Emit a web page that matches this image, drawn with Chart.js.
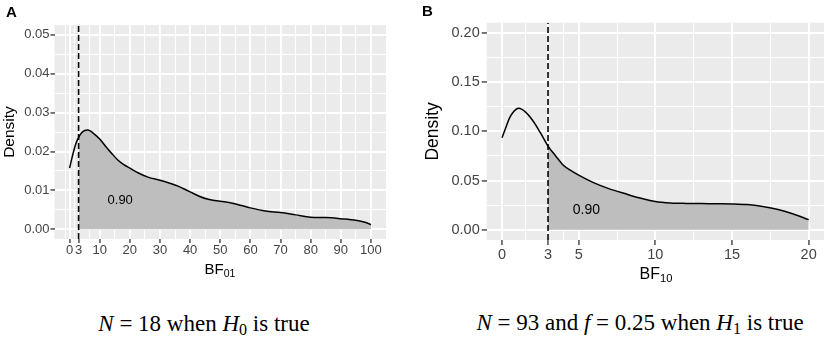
<!DOCTYPE html>
<html><head><meta charset="utf-8">
<script src="https://cdn.jsdelivr.net/npm/chart.js"></script>
<style>
body{margin:0;background:#fff;width:829px;height:339px;position:relative;overflow:hidden;font-family:"Liberation Sans",Arial,sans-serif;}
canvas{position:absolute;top:0;}
#cA{left:0;} #cB{left:420px;}
.tag{position:absolute;font-weight:bold;font-size:15px;line-height:15px;color:#000;}
.xt{position:absolute;text-align:center;color:#000;white-space:nowrap;}
.xt sub{font-size:70%;line-height:0;vertical-align:-0.3em;}
.cap{position:absolute;text-align:center;font-family:"Liberation Serif","Times New Roman",serif;font-size:23px;line-height:23px;white-space:nowrap;color:#000;}
.cap sub{font-size:70%;line-height:0;vertical-align:-0.25em;}
</style></head><body>
<canvas id="cA" width="400" height="300"></canvas>
<canvas id="cB" width="409" height="300"></canvas>
<div class="tag" style="left:6px;top:4px">A</div>
<div class="tag" style="left:422px;top:3px">B</div>
<div class="xt" style="left:120px;width:200px;top:261px;font-size:15px;line-height:15px">BF<sub>01</sub></div>
<div class="xt" style="left:556px;width:200px;top:266px;font-size:16px;line-height:16px">BF<sub>10</sub></div>
<div class="cap" style="left:4px;width:400px;top:312px"><i>N</i> = 18 when <i>H</i><sub>0</sub> is true</div>
<div class="cap" style="left:440px;width:400px;top:311px"><i>N</i> = 93 and <i>f</i> = 0.25 when <i>H</i><sub>1</sub> is true</div>
<script>
// ---- Panel A data ----
const xA = [0,1,2,3,4,5,6,7,8,10,12,14,16,18,20,23,26,30,33,36,40,43,46,50,54,57,60,65,70,75,80,85,90,95,98,100];
const yA = [0.0157,0.0190,0.0218,0.0236,0.0248,0.0254,0.0255,0.0252,0.0246,0.0232,0.0213,0.0195,0.0178,0.0166,0.0157,0.0144,0.0134,0.0126,0.0119,0.0111,0.0096,0.0085,0.0077,0.0072,0.0067,0.0061,0.0055,0.0047,0.0043,0.0037,0.0031,0.0030,0.0027,0.0023,0.0018,0.0012];
const thresholdA = 3;
const probLabelA = '0.90';
const probPosA = [16.8, 0.0075];
const xMajorA = [0,3,10,20,30,40,50,60,70,80,90,100];
const xMinorA = [-1.5,1.5,6.5,15,25,35,45,55,65,75,85,95];
const yMajorA = [0,0.01,0.02,0.03,0.04,0.05];
const yMinorA = [0.005,0.015,0.025,0.035,0.045];

// ---- Panel B data ----
const xB = [0,0.25,0.5,0.75,1,1.1,1.5,2,2.5,3,3.5,4,4.5,5,6,7,8,9,10,11,12,13,14,15,16,17,18,19,20];
const yB = [0.0935,0.104,0.114,0.1200,0.1232,0.1235,0.1200,0.1110,0.0986,0.085,0.075,0.0655,0.0600,0.0555,0.0476,0.0415,0.0367,0.0322,0.0287,0.0272,0.0267,0.0265,0.0264,0.0262,0.0255,0.0235,0.0205,0.0160,0.0102];
const thresholdB = 3;
const probLabelB = '0.90';
const probPosB = [5.5, 0.0197];
const xMajorB = [0,3,5,10,15,20];
const xMinorB = [1.5,4,7.5,12.5,17.5];
const yMajorB = [0,0.05,0.10,0.15,0.20];
const yMinorB = [0.025,0.075,0.125,0.175];

const FONT = '"Liberation Sans", Arial, sans-serif';
const isIn = (arr, v) => arr.some(a => Math.abs(a - v) < 1e-9);

function build(id, o) {
  const pts = o.xs.map((x, i) => ({x: x, y: o.ys[i]}));
  const areaPts = pts.filter(p => p.x >= o.threshold);
  const allX = o.xMajor.concat(o.xMinor).sort((a, b) => a - b);
  const allY = o.yMajor.concat(o.yMinor).sort((a, b) => a - b);
  const gridOpts = (major) => ({
    color: '#ffffff',
    lineWidth: c => (c.tick && isIn(major, c.tick.value)) ? o.majorW : o.minorW,
    tickColor: c => (c.tick && isIn(major, c.tick.value)) ? '#333333' : 'rgba(0,0,0,0)',
    tickWidth: o.tickW,
    tickLength: o.tickLen,
    drawTicks: true
  });
  const panelPlugin = {
    id: 'panel' + id,
    beforeDraw(ch) {
      const a = ch.chartArea, ctx = ch.ctx;
      ctx.save();
      ctx.fillStyle = '#EBEBEB';
      ctx.fillRect(a.left, a.top, a.right - a.left, a.bottom - a.top);
      ctx.restore();
    },
    afterDatasetsDraw(ch) {
      const ctx = ch.ctx;
      const px = ch.scales.x.getPixelForValue(o.labelPos[0]);
      const py = ch.scales.y.getPixelForValue(o.labelPos[1]);
      ctx.save();
      ctx.font = o.labelSize + 'px ' + FONT;
      ctx.fillStyle = '#000';
      ctx.textAlign = 'center';
      ctx.textBaseline = 'middle';
      ctx.fillText(o.label, px, py);
      ctx.restore();
    }
  };
  return new Chart(document.getElementById(id), {
    type: 'line',
    data: {datasets: [
      {data: [{x: o.threshold, y: o.yMin}, {x: o.threshold, y: o.yMax}], borderColor: '#000', borderWidth: 1.6, borderDash: [6, 3], pointRadius: 0, fill: false},
      {data: pts, borderColor: '#000', borderWidth: 1.5, pointRadius: 0, fill: false, cubicInterpolationMode: 'monotone'},
      {data: areaPts, borderColor: 'rgba(255,255,255,0.8)', borderWidth: 1, backgroundColor: '#BEBEBE', pointRadius: 0, fill: 'origin', cubicInterpolationMode: 'monotone'}
    ]},
    options: {
      responsive: false, animation: false, devicePixelRatio: 1,
      layout: {padding: {left: 0, right: o.padR, top: o.padT, bottom: 0}},
      plugins: {legend: {display: false}, tooltip: {enabled: false}},
      scales: {
        x: {
          type: 'linear', min: o.xMin, max: o.xMax,
          grid: gridOpts(o.xMajor), border: {display: false},
          afterBuildTicks: s => { s.ticks = allX.map(v => ({value: v})); },
          afterFit: s => { s.height = o.xAxisH; },
          ticks: {autoSkip: false, maxRotation: 0, minRotation: 0, padding: o.xTickPad, color: '#444444',
            font: {family: FONT, size: o.tickSize, lineHeight: 1},
            callback: v => isIn(o.xMajor, v) ? String(v) : ''}
        },
        y: {
          type: 'linear', min: o.yMin, max: o.yMax,
          grid: gridOpts(o.yMajor), border: {display: false},
          afterBuildTicks: s => { s.ticks = allY.map(v => ({value: v})); },
          afterFit: s => { s.width = o.yAxisW; },
          title: {display: true, text: 'Density', color: '#000', font: {family: FONT, size: o.yTitleSize, lineHeight: 1.2}, padding: {top: o.yTitlePad, bottom: 0}},
          ticks: {autoSkip: false, padding: o.yTickPad, color: '#444444',
            font: {family: FONT, size: o.tickSize, lineHeight: 1},
            callback: v => isIn(o.yMajor, v) ? v.toFixed(2) : ''}
        }
      }
    },
    plugins: [panelPlugin]
  });
}

build('cA', {
  xs: xA, ys: yA, threshold: thresholdA, label: probLabelA, labelPos: probPosA,
  xMajor: xMajorA, xMinor: xMinorA, yMajor: yMajorA, yMinor: yMinorA,
  xMin: -5, xMax: 105, yMin: -0.0025, yMax: 0.0525,
  padR: 14, padT: 25, xAxisH: 61, yAxisW: 54.5,
  tickSize: 13, labelSize: 13, yTitleSize: 15.5, yTitlePad: 0,
  xTickPad: 1, yTickPad: 1, tickLen: 4, tickW: 1.3, majorW: 1.9, minorW: 1.0
});
build('cB', {
  xs: xB, ys: yB, threshold: thresholdB, label: probLabelB, labelPos: probPosB,
  xMajor: xMajorB, xMinor: xMinorB, yMajor: yMajorB, yMinor: yMinorB,
  xMin: -1, xMax: 21, yMin: -0.0105, yMax: 0.2105,
  padR: 5, padT: 22.7, xAxisH: 60, yAxisW: 66.7,
  tickSize: 14.5, labelSize: 14, yTitleSize: 17.5, yTitlePad: 3,
  xTickPad: 3, yTickPad: 2, tickLen: 5, tickW: 1.3, majorW: 1.9, minorW: 1.0
});
</script>
</body></html>
